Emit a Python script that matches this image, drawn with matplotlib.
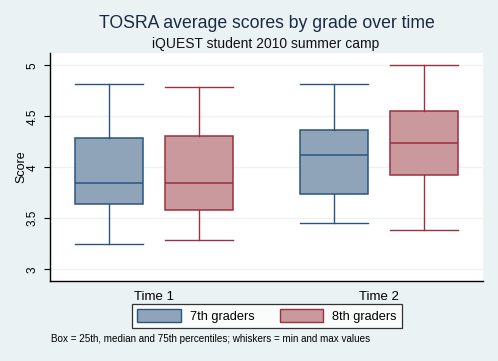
import matplotlib
matplotlib.use("Agg")
import matplotlib.pyplot as plt
from matplotlib.patches import Patch

plt.rcParams["font.family"] = ["Liberation Sans", "DejaVu Sans"]

# Data (score scale 1-5)
groups = ["Time 1", "Time 2"]
series = ["7th graders", "8th graders"]
mins = [[3.25, 3.45], [3.29, 3.39]]
q1s = [[3.64, 3.74], [3.58, 3.92]]
meds = [[3.85, 4.12], [3.85, 4.24]]
q3s = [[4.29, 4.37], [4.31, 4.55]]
maxs = [[4.82, 4.82], [4.79, 5.00]]
yticks = [3, 3.5, 4, 4.5, 5]
ytick_labels = ["3", "3.5", "4", "4.5", "5"]

bg = "#eaf2f3"
fills = ["#90a4b9", "#c9999e"]
edges = ["#2a5580", "#9b3040"]

fig = plt.figure(figsize=(4.98, 3.61), dpi=100, facecolor=bg)
ax = fig.add_axes([0.0994, 0.2216, 0.8706, 0.6314])
ax.set_facecolor("white")

offsets = [-0.2, 0.2]
for s in range(len(series)):
    stats = []
    for g in range(len(groups)):
        stats.append(dict(med=meds[s][g], q1=q1s[s][g], q3=q3s[s][g],
                          whislo=mins[s][g], whishi=maxs[s][g], fliers=[]))
    pos = [g + 1 + offsets[s] for g in range(len(groups))]
    ax.bxp(stats, positions=pos, widths=0.3, patch_artist=True,
           showfliers=False, manage_ticks=False,
           boxprops=dict(facecolor=fills[s], edgecolor=edges[s], linewidth=1.1),
           medianprops=dict(color=edges[s], linewidth=1.1),
           whiskerprops=dict(color=edges[s], linewidth=1.0),
           capprops=dict(color=edges[s], linewidth=1.0),
           capwidths=0.3)

ax.set_xlim(0.535, 2.462)
ax.set_ylim(2.885, 5.12)
ax.set_xticks([1, 2])
ax.set_xticklabels(groups, fontsize=9.5)
ax.tick_params(axis="x", length=0, pad=7)
ax.set_yticks(yticks)
ax.set_yticklabels(ytick_labels, rotation=90, va="center", fontsize=8.5)
ax.tick_params(axis="y", length=4, width=0.8, pad=4)
ax.yaxis.grid(True, color="#eef2f3", linewidth=1.0)
ax.set_axisbelow(True)
for side in ["top", "right"]:
    ax.spines[side].set_visible(False)
for side in ["left", "bottom"]:
    ax.spines[side].set_linewidth(1.0)
ax.set_ylabel("Score", fontsize=9, labelpad=-1)

fig.text(0.536, 0.935, "TOSRA average scores by grade over time",
         ha="center", va="center", fontsize=12.7, color="#1a2a44")
fig.text(0.534, 0.877, "iQUEST student 2010 summer camp",
         ha="center", va="center", fontsize=10, color="#111111")

handles = [Patch(facecolor=fills[i], edgecolor=edges[i], linewidth=1.0)
           for i in range(len(series))]
leg = fig.legend(handles, series, loc="center", bbox_to_anchor=(0.536, 0.124),
                 ncol=2, fontsize=9.2, frameon=True, fancybox=False,
                 handlelength=3.4, handleheight=1.2, columnspacing=2.0,
                 borderpad=0.4, handletextpad=0.7)
leg.get_frame().set_edgecolor("black")
leg.get_frame().set_linewidth(0.9)

fig.text(0.102, 0.061,
         "Box = 25th, median and 75th percentiles; whiskers = min and max values",
         ha="left", va="center", fontsize=7.1)

fig.savefig("out.png", dpi=100, facecolor=bg)
